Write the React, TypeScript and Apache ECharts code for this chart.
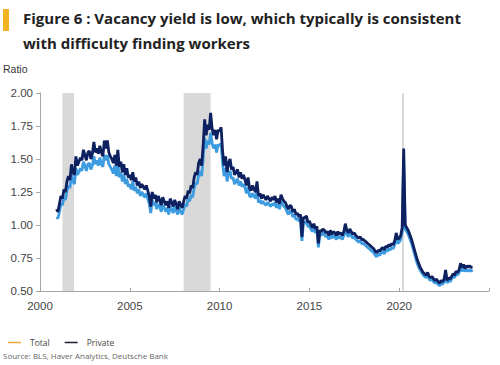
import React, { useEffect, useRef } from "react";
import * as echarts from "echarts";

// Monthly data, starting December 2000
const startYear = 2000;
const startMonth = 12;

const privateSeries: number[] = [
  1.12,
  1.10, 1.16, 1.22, 1.20, 1.27, 1.25, 1.33, 1.37, 1.34, 1.46, 1.40, 1.38,
  1.52, 1.45, 1.48, 1.51, 1.49, 1.57, 1.53, 1.49, 1.55, 1.56, 1.50, 1.54,
  1.63, 1.55, 1.58, 1.54, 1.60, 1.55, 1.52, 1.64, 1.58, 1.64, 1.55, 1.52,
  1.50, 1.47, 1.53, 1.45, 1.57, 1.44, 1.48, 1.40, 1.46, 1.38, 1.43, 1.36,
  1.38, 1.34, 1.40, 1.33, 1.36, 1.30, 1.33, 1.28, 1.31, 1.29, 1.27, 1.30,
  1.26, 1.22, 1.14, 1.25, 1.20, 1.23, 1.17, 1.22, 1.19, 1.15, 1.21, 1.18,
  1.15, 1.18, 1.13, 1.20, 1.17, 1.14, 1.19, 1.16, 1.12, 1.18, 1.15, 1.13,
  1.18, 1.22, 1.20, 1.26, 1.24, 1.30, 1.28, 1.36, 1.40, 1.38, 1.47, 1.50,
  1.45, 1.60, 1.80, 1.68, 1.76, 1.72, 1.85, 1.73, 1.68, 1.72, 1.65, 1.72,
  1.71, 1.74, 1.56, 1.45, 1.52, 1.40, 1.47, 1.50, 1.42, 1.44, 1.38, 1.40,
  1.42, 1.36, 1.40, 1.35, 1.38, 1.34, 1.30, 1.36, 1.28, 1.26, 1.30, 1.27,
  1.25, 1.33, 1.22, 1.24, 1.20, 1.23, 1.21, 1.19, 1.22, 1.20, 1.18, 1.21,
  1.19, 1.22, 1.17, 1.20, 1.16, 1.23, 1.20, 1.18, 1.17, 1.14, 1.12, 1.15,
  1.14, 1.10, 1.12, 1.08, 1.09, 1.06, 1.08, 0.91, 1.06, 1.05, 1.07, 1.02,
  1.03, 1.00, 0.98, 1.01, 0.97, 0.99, 0.86, 0.96, 0.95, 0.97, 0.96, 0.94,
  0.95, 0.92, 0.96, 0.93, 0.95, 0.94, 0.92, 0.95, 0.93, 0.94, 0.92, 0.95,
  1.01, 0.96, 0.94, 0.97, 0.95, 0.93, 0.94, 0.92, 0.91, 0.90, 0.91, 0.89,
  0.89, 0.88, 0.87, 0.86, 0.85, 0.84, 0.83, 0.82, 0.80, 0.79, 0.81, 0.80,
  0.82, 0.83, 0.81, 0.84, 0.83, 0.85, 0.84, 0.86, 0.85, 0.88, 0.94, 0.89,
  0.90, 0.92, 0.98, 1.58, 1.00, 0.98, 0.96, 0.93, 0.90, 0.86, 0.82, 0.78,
  0.74, 0.71, 0.68, 0.66, 0.64, 0.63, 0.62, 0.64, 0.61, 0.60, 0.61, 0.59,
  0.58, 0.59, 0.57, 0.56, 0.58, 0.57, 0.59, 0.66, 0.58, 0.60, 0.59, 0.61,
  0.63, 0.62, 0.65, 0.64, 0.66, 0.71, 0.68, 0.70, 0.67, 0.69, 0.68, 0.69,
  0.68, 0.68,
];

const totalSeries: number[] = [
  1.06,
  1.05, 1.10, 1.16, 1.15, 1.21, 1.19, 1.26, 1.30, 1.28, 1.38, 1.33, 1.31,
  1.43, 1.38, 1.40, 1.43, 1.41, 1.48, 1.45, 1.41, 1.46, 1.47, 1.42, 1.45,
  1.52, 1.46, 1.49, 1.45, 1.51, 1.46, 1.44, 1.53, 1.49, 1.53, 1.46, 1.44,
  1.42, 1.39, 1.45, 1.37, 1.47, 1.36, 1.40, 1.33, 1.38, 1.31, 1.35, 1.29,
  1.31, 1.27, 1.33, 1.26, 1.29, 1.24, 1.27, 1.22, 1.25, 1.23, 1.21, 1.24,
  1.20, 1.16, 1.09, 1.19, 1.15, 1.17, 1.12, 1.16, 1.14, 1.10, 1.15, 1.13,
  1.10, 1.13, 1.08, 1.14, 1.12, 1.09, 1.14, 1.11, 1.08, 1.13, 1.10, 1.08,
  1.12, 1.16, 1.14, 1.20, 1.18, 1.23, 1.21, 1.28, 1.32, 1.31, 1.38, 1.41,
  1.37, 1.50, 1.66, 1.58, 1.64, 1.61, 1.70, 1.62, 1.58, 1.61, 1.55, 1.61,
  1.60, 1.62, 1.47, 1.37, 1.43, 1.33, 1.39, 1.41, 1.35, 1.36, 1.31, 1.33,
  1.35, 1.30, 1.33, 1.29, 1.31, 1.28, 1.24, 1.29, 1.22, 1.21, 1.24, 1.22,
  1.20, 1.27, 1.17, 1.19, 1.16, 1.18, 1.16, 1.15, 1.17, 1.16, 1.14, 1.16,
  1.15, 1.17, 1.13, 1.16, 1.12, 1.18, 1.16, 1.14, 1.13, 1.10, 1.08, 1.11,
  1.10, 1.06, 1.08, 1.04, 1.05, 1.03, 1.04, 0.88, 1.02, 1.01, 1.03, 0.99,
  0.99, 0.97, 0.95, 0.98, 0.94, 0.96, 0.83, 0.93, 0.92, 0.94, 0.93, 0.91,
  0.92, 0.89, 0.93, 0.90, 0.92, 0.91, 0.89, 0.92, 0.90, 0.91, 0.89, 0.92,
  0.97, 0.93, 0.91, 0.94, 0.92, 0.90, 0.91, 0.89, 0.88, 0.87, 0.88, 0.86,
  0.86, 0.85, 0.84, 0.83, 0.82, 0.81, 0.80, 0.79, 0.77, 0.76, 0.78, 0.77,
  0.79, 0.80, 0.78, 0.81, 0.80, 0.82, 0.81, 0.83, 0.82, 0.85, 0.90, 0.86,
  0.87, 0.89, 0.95, 1.50, 0.97, 0.95, 0.93, 0.90, 0.87, 0.83, 0.79, 0.75,
  0.71, 0.68, 0.66, 0.64, 0.62, 0.61, 0.60, 0.62, 0.59, 0.58, 0.59, 0.57,
  0.56, 0.57, 0.55, 0.54, 0.56, 0.55, 0.57, 0.63, 0.56, 0.58, 0.57, 0.59,
  0.61, 0.60, 0.63, 0.62, 0.64, 0.68, 0.65, 0.67, 0.65, 0.66, 0.65, 0.66,
  0.65, 0.66,
];

// Recession periods (decimal years)
const recessions: [number, number][] = [
  [2001.25, 2001.9],
  [2008.0, 2009.5],
  [2020.16, 2020.27],
];

const xTicks = [2000, 2005, 2010, 2015, 2020];
const yTicks = [0.5, 0.75, 1.0, 1.25, 1.5, 1.75, 2.0];

const titleLines = [
  "Figure 6 : Vacancy yield is low, which typically is consistent",
  "with difficulty finding workers",
];
const unitLabel = "Ratio";
const sourceText = "Source: BLS, Haver Analytics, Deutsche Bank";
const seriesNames = ["Total", "Private"];

const toDate = (i: number) => startYear + (startMonth - 1 + i) / 12;

export default function App() {
  const ref = useRef<HTMLDivElement>(null);
  useEffect(() => {
    if (!ref.current) return;
    const chart = echarts.init(ref.current, undefined, { renderer: "svg" });
    const totalData = totalSeries.map((v, i) => [toDate(i), v]);
    const privateData = privateSeries.map((v, i) => [toDate(i), v]);
    const axisFont = "'Liberation Sans', Arial, sans-serif";
    chart.setOption({
      animation: false,
      backgroundColor: "#ffffff",
      grid: { left: 40, right: 11, top: 93, bottom: 74, containLabel: false },
      xAxis: {
        type: "value",
        min: 2000,
        max: 2025,
        interval: 5,
        axisLine: { show: true, lineStyle: { color: "#a6a6a6", width: 1 } },
        axisTick: { show: true, inside: true, length: 3, lineStyle: { color: "#a6a6a6" } },
        splitLine: { show: false },
        axisLabel: {
          color: "#444",
          fontSize: 11.5,
          fontFamily: axisFont,
          margin: 9,
          formatter: (v: number) => (xTicks.includes(v) ? String(v) : ""),
        },
      },
      yAxis: {
        type: "value",
        min: 0.5,
        max: 2.0,
        interval: 0.25,
        axisLine: { show: true, lineStyle: { color: "#a6a6a6", width: 1 } },
        axisTick: { show: true, length: 4, lineStyle: { color: "#a6a6a6" } },
        splitLine: { show: false },
        axisLabel: {
          color: "#444",
          fontSize: 11.5,
          fontFamily: axisFont,
          margin: 7,
          formatter: (v: number) => (yTicks.some((t) => Math.abs(t - v) < 1e-9) ? v.toFixed(2) : ""),
        },
      },
      legend: {
        left: 3,
        top: 333,
        itemWidth: 13,
        itemHeight: 1.5,
        itemGap: 15,
        icon: "rect",
        textStyle: { color: "#444", fontSize: 8.5, fontFamily: "'Open Sans', sans-serif", padding: [0, 0, 0, 4] },
        data: [
          { name: seriesNames[0], itemStyle: { color: "#f2a93b" } },
          { name: seriesNames[1], itemStyle: { color: "#1b1f3a" } },
        ],
      },
      graphic: [
        { type: "rect", shape: { x: 3, y: 9, width: 6, height: 22 }, style: { fill: "#f4b223" } },
        {
          type: "text",
          left: 23,
          top: 5,
          style: {
            text: titleLines.join("\n"),
            fill: "#222",
            font: "bold 15px 'Open Sans', sans-serif",
            lineHeight: 25,
          },
        },
        {
          type: "text",
          left: 3,
          top: 63,
          style: { text: unitLabel, fill: "#333", font: "10.5px 'Liberation Sans', Arial, sans-serif" },
        },
        {
          type: "text",
          left: 3,
          top: 351,
          style: { text: sourceText, fill: "#666", font: "8px 'Open Sans', sans-serif" },
        },
      ],
      series: [
        {
          name: seriesNames[0],
          type: "line",
          data: totalData,
          showSymbol: false,
          lineStyle: { color: "#3d9be0", width: 2.8 },
          itemStyle: { color: "#3d9be0" },
          z: 2,
          markArea: {
            silent: true,
            itemStyle: { color: "#d9d9d9" },
            data: recessions.map(([a, b]) => [{ xAxis: a, yAxis: 2.0 }, { xAxis: b, yAxis: 0.5 }]),
          },
        },
        {
          name: seriesNames[1],
          type: "line",
          data: privateData,
          showSymbol: false,
          lineStyle: { color: "#0d2160", width: 2.8 },
          itemStyle: { color: "#0d2160" },
          z: 3,
        },
      ],
    });
    return () => chart.dispose();
  }, []);
  return <div ref={ref} style={{ width: 500, height: 365, position: "absolute", left: 0, top: 0 }} />;
}
